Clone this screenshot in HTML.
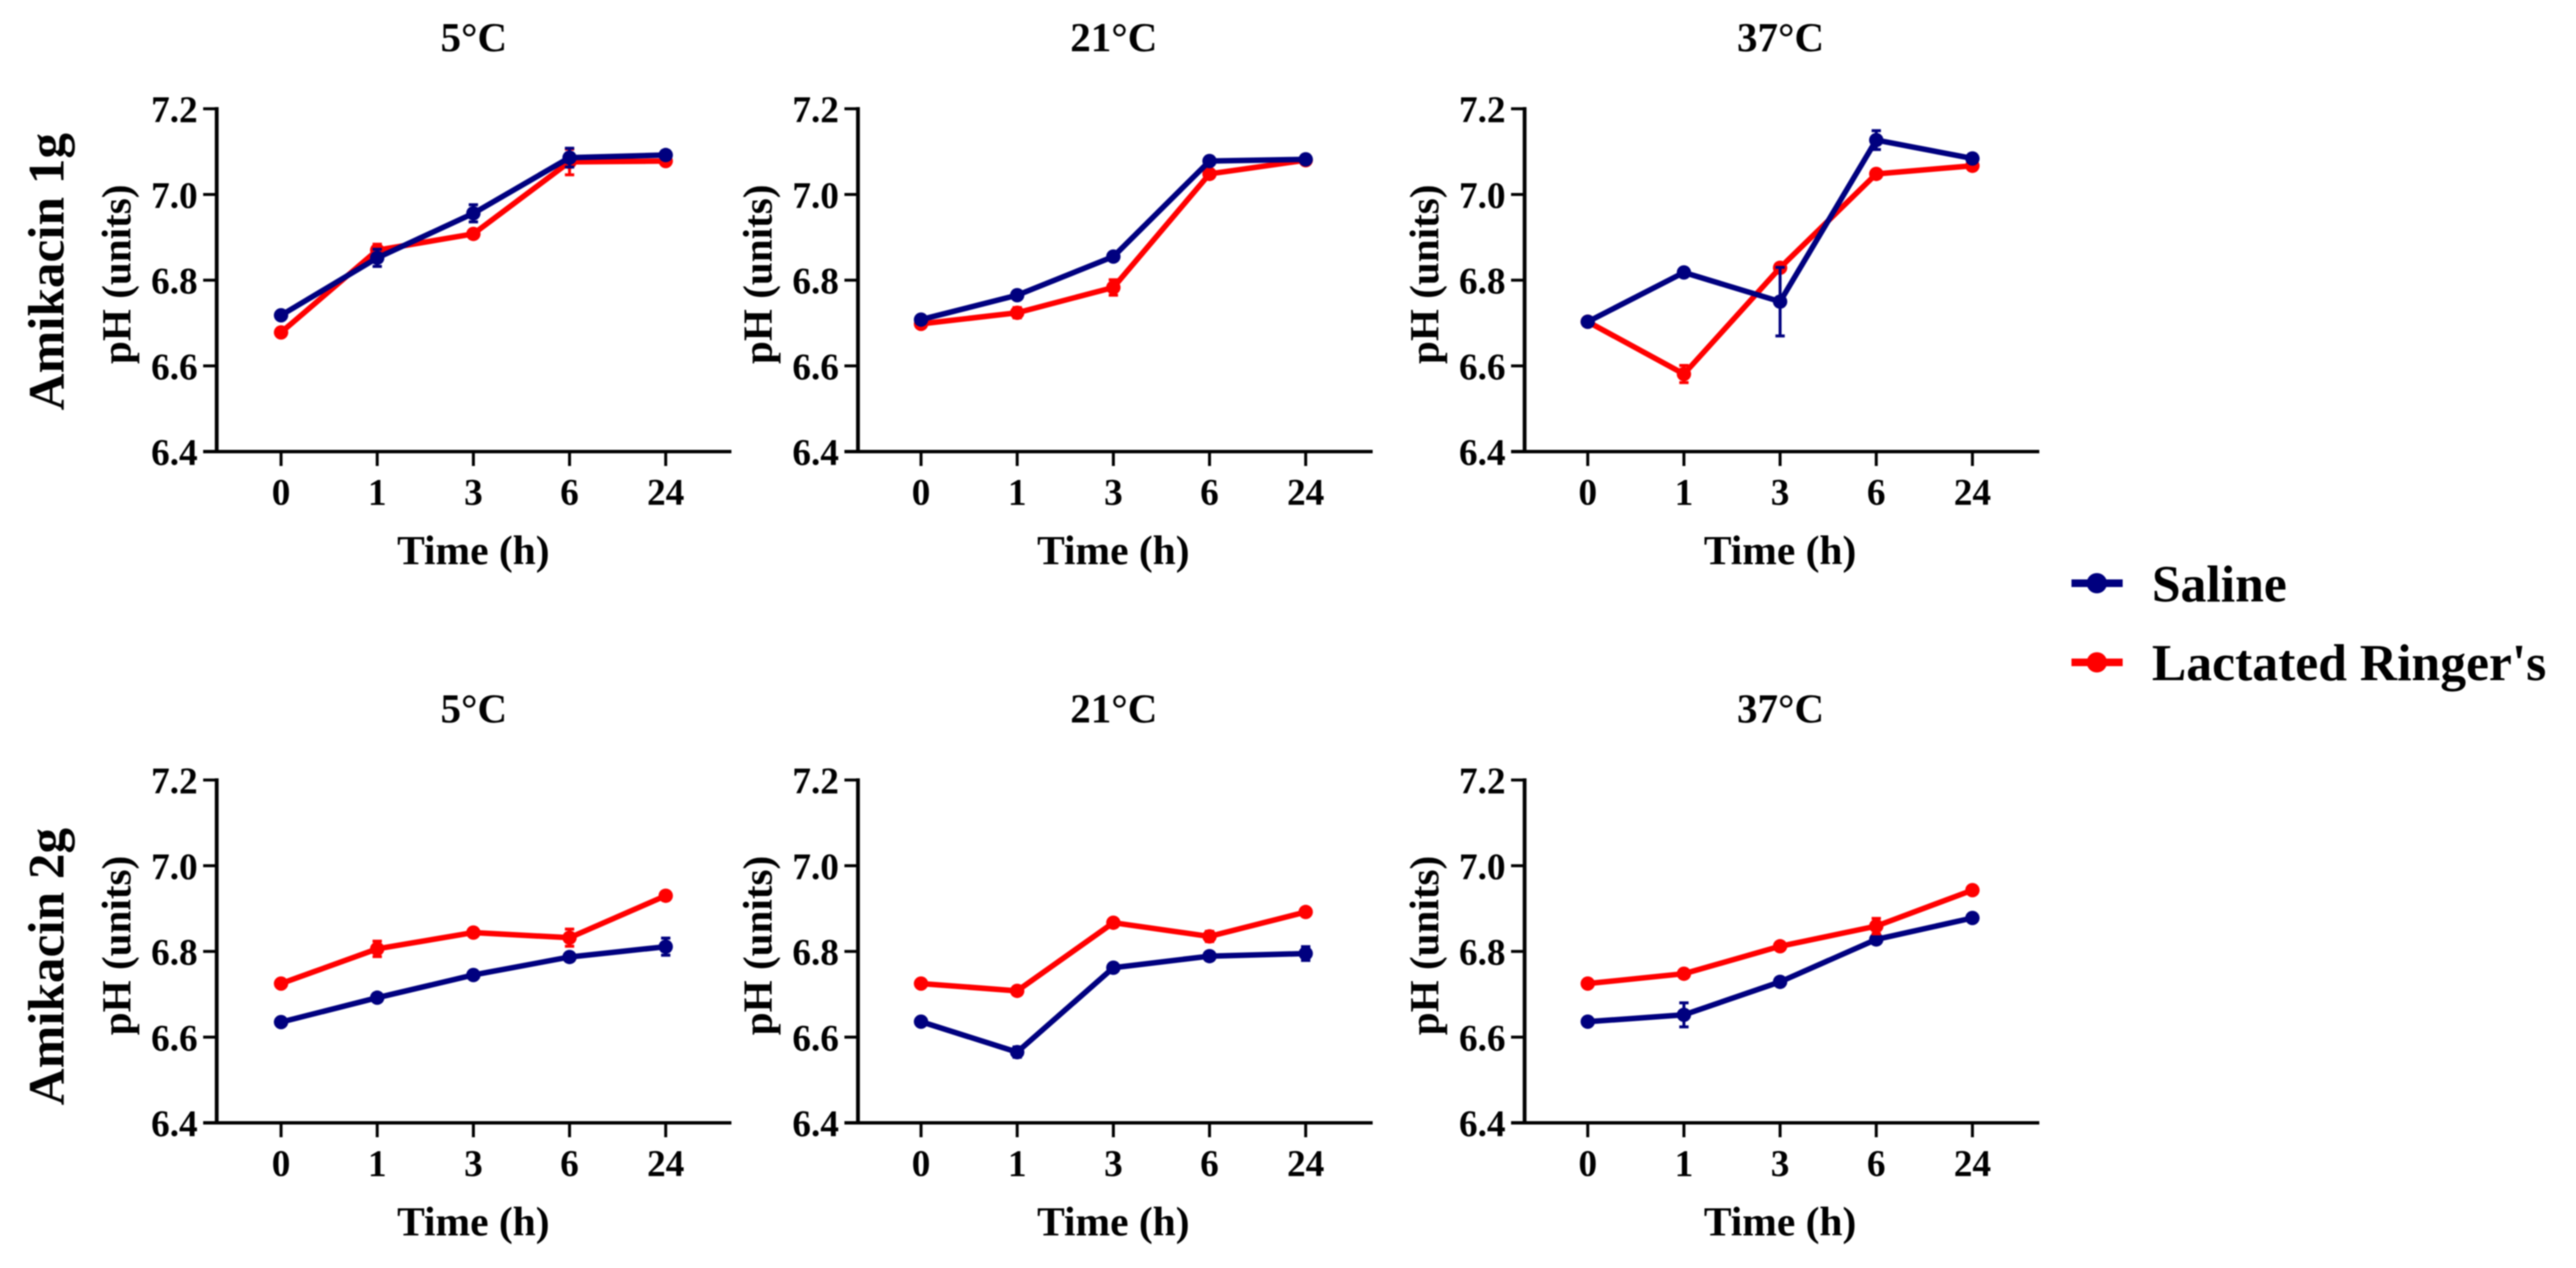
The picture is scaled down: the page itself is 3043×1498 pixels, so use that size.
<!DOCTYPE html>
<html lang="en">
<head>
<meta charset="utf-8">
<title>pH of amikacin over time</title>
<style>
html,body{margin:0;padding:0;background:#fff;width:3043px;height:1498px;overflow:hidden}
svg{display:block;filter:blur(0.7px)}
text{font-family:"Liberation Serif","Times New Roman",serif;font-weight:bold;fill:#000}
</style>
</head>
<body>
<svg id="chart" xmlns="http://www.w3.org/2000/svg" width="3043" height="1498" viewBox="0 0 3043 1498">
  <rect x="0" y="0" width="3043" height="1498" fill="#fff"></rect>
  <text transform="translate(75 321) rotate(-90)" text-anchor="middle" font-size="60.5">Amikacin 1g</text>
  <text transform="translate(75 1142) rotate(-90)" text-anchor="middle" font-size="60.5">Amikacin 2g</text>
  <g>
    <g>
      <line x1="2447" x2="2507.5" y1="689" y2="689" stroke="#00007f" stroke-width="9"></line>
      <circle cx="2477" cy="689" r="12" fill="#00007f"></circle>
      <text x="2542" y="710.5" font-size="61">Saline</text>
    </g>
    <g>
      <line x1="2447" x2="2507.5" y1="782.5" y2="782.5" stroke="#ff0000" stroke-width="9"></line>
      <circle cx="2477" cy="782.5" r="12" fill="#ff0000"></circle>
      <text x="2542" y="803.5" font-size="61">Lactated Ringer's</text>
    </g>
  </g>
</svg>
<script>
var categories = ['0', '1', '3', '6', '24'];
var yTicks = [6.4, 6.6, 6.8, 7.0, 7.2];
var panelTitles = ['5°C', '21°C', '37°C', '5°C', '21°C', '37°C'];
var panelKeys = ['1g-5c', '1g-21c', '1g-37c', '2g-5c', '2g-21c', '2g-37c'];
var yAxisTitle = 'pH (units)';
var xAxisTitle = 'Time (h)';

var salineValues = [
  [6.718, 6.852, 6.956, 7.086, 7.092],
  [6.708, 6.765, 6.855, 7.078, 7.082],
  [6.703, 6.818, 6.750, 7.127, 7.084],
  [6.635, 6.692, 6.745, 6.787, 6.811],
  [6.636, 6.565, 6.762, 6.789, 6.795],
  [6.636, 6.652, 6.729, 6.828, 6.878]
];
var salineErrors = [
  [0.004, 0.020, 0.020, 0.022, 0.010],
  [0.004, 0.006, 0.006, 0.006, 0.004],
  [0.006, 0.008, 0.080, 0.022, 0.008],
  [0.004, 0.006, 0.006, 0.006, 0.020],
  [0.004, 0.012, 0.006, 0.006, 0.016],
  [0.004, 0.028, 0.006, 0.006, 0.004]
];
var ringersValues = [
  [6.678, 6.870, 6.908, 7.076, 7.078],
  [6.698, 6.724, 6.783, 7.048, 7.080],
  [6.703, 6.581, 6.829, 7.048, 7.067],
  [6.725, 6.806, 6.844, 6.832, 6.930],
  [6.725, 6.708, 6.867, 6.835, 6.892],
  [6.725, 6.748, 6.812, 6.859, 6.943]
];
var ringersErrors = [
  [0.004, 0.014, 0.006, 0.030, 0.006],
  [0.004, 0.012, 0.018, 0.006, 0.004],
  [0.004, 0.020, 0.004, 0.006, 0.004],
  [0.004, 0.018, 0.006, 0.020, 0.006],
  [0.004, 0.004, 0.006, 0.012, 0.006],
  [0.004, 0.004, 0.006, 0.018, 0.004]
];

var NS = 'http://www.w3.org/2000/svg';
var svg = document.getElementById('chart');
var panelLeft = [256, 1013.5, 1801];
var firstTickX = [332, 1088, 1875.6];
var rowTop = [128.5, 921.5];
var plotH = 405;
var stepX = 113.6;
var yMin = 6.4, yMax = 7.2;
var BLUE = '#00007f', RED = '#ff0000';

function make(tag, attrs, parent) {
  var el = document.createElementNS(NS, tag);
  for (var k in attrs) el.setAttribute(k, attrs[k]);
  parent.appendChild(el);
  return el;
}
function xScale(col, i) { return firstTickX[col] + stepX * i; }
function yScale(row, v) { return rowTop[row] + (yMax - v) / (yMax - yMin) * plotH; }

function drawSeries(g, col, row, values, errors, color, key) {
  var sg = make('g', {}, g);
  
  
  values.forEach(function (v, i) {
    var x = xScale(col, i), hi = yScale(row, v + errors[i]), lo = yScale(row, v - errors[i]);
    var bar = make('path', {
      d: 'M' + (x - 5.5) + ' ' + hi + 'H' + (x + 5.5) + 'M' + x + ' ' + hi + 'V' + lo + 'M' + (x - 5.5) + ' ' + lo + 'H' + (x + 5.5),
      stroke: color, 'stroke-width': 3.5, fill: 'none'
    }, sg);
    
    
  });
  var pts = values.map(function (v, i) { return xScale(col, i) + ',' + yScale(row, v); }).join(' ');
  var line = make('polyline', { points: pts, fill: 'none', stroke: color, 'stroke-width': 6.5, 'stroke-linejoin': 'round' }, sg);
  
  
  values.forEach(function (v, i) {
    var c = make('circle', { cx: xScale(col, i), cy: yScale(row, v), r: 8.5, fill: color }, sg);
    
    
  });
}

function drawPanel(p) {
  var col = p % 3, row = p < 3 ? 0 : 1;
  var dy = row === 0 ? 0 : 793;
  var ax = panelLeft[col], top = rowTop[row], bottom = top + plotH;
  var g = make('g', {}, svg);
  
  

  var title = make('text', { x: xScale(col, 2) + 0.5, y: 60.5 + dy, 'text-anchor': 'middle', 'font-size': 48.5 }, g);
  title.textContent = panelTitles[p];
  
  

  var yTitle = make('text', { transform: 'translate(' + (ax - 102) + ' ' + (324 + dy) + ') rotate(-90)', 'text-anchor': 'middle', 'font-size': 48.6 }, g);
  yTitle.textContent = yAxisTitle;
  
  

  var xTitle = make('text', { x: xScale(col, 2), y: 666.5 + dy, 'text-anchor': 'middle', 'font-size': 49 }, g);
  xTitle.textContent = xAxisTitle;
  
  

  yTicks.forEach(function (t) {
    var y = yScale(row, t);
    var tick = make('line', { x1: ax - 16, x2: ax, y1: y, y2: y, stroke: '#000', 'stroke-width': 3.5 }, g);
    
    
    var lab = make('text', { x: ax - 22.5, y: y + 15.5, 'text-anchor': 'end', 'font-size': 44 }, g);
    lab.textContent = t.toFixed(1);
    
    
  });
  categories.forEach(function (c, i) {
    var x = xScale(col, i);
    var tick = make('line', { x1: x, x2: x, y1: bottom, y2: bottom + 17, stroke: '#000', 'stroke-width': 3.5 }, g);
    
    
    var lab = make('text', { x: x, y: 596 + dy, 'text-anchor': 'middle', 'font-size': 44 }, g);
    lab.textContent = c;
    
    
  });

  var yAxis = make('line', { x1: ax, x2: ax, y1: top - 2, y2: bottom + 2, stroke: '#000', 'stroke-width': 4.5 }, g);
  
  
  var xAxis = make('line', { x1: ax - 16, x2: ax + 608, y1: bottom, y2: bottom, stroke: '#000', 'stroke-width': 4 }, g);
  
  

  if (row === 0) {
    drawSeries(g, col, row, ringersValues[p], ringersErrors[p], RED, 'lactated-ringers');
    drawSeries(g, col, row, salineValues[p], salineErrors[p], BLUE, 'saline');
  } else {
    drawSeries(g, col, row, salineValues[p], salineErrors[p], BLUE, 'saline');
    drawSeries(g, col, row, ringersValues[p], ringersErrors[p], RED, 'lactated-ringers');
  }
}
for (var p = 0; p < 6; p++) drawPanel(p);
</script>
</body>
</html>
